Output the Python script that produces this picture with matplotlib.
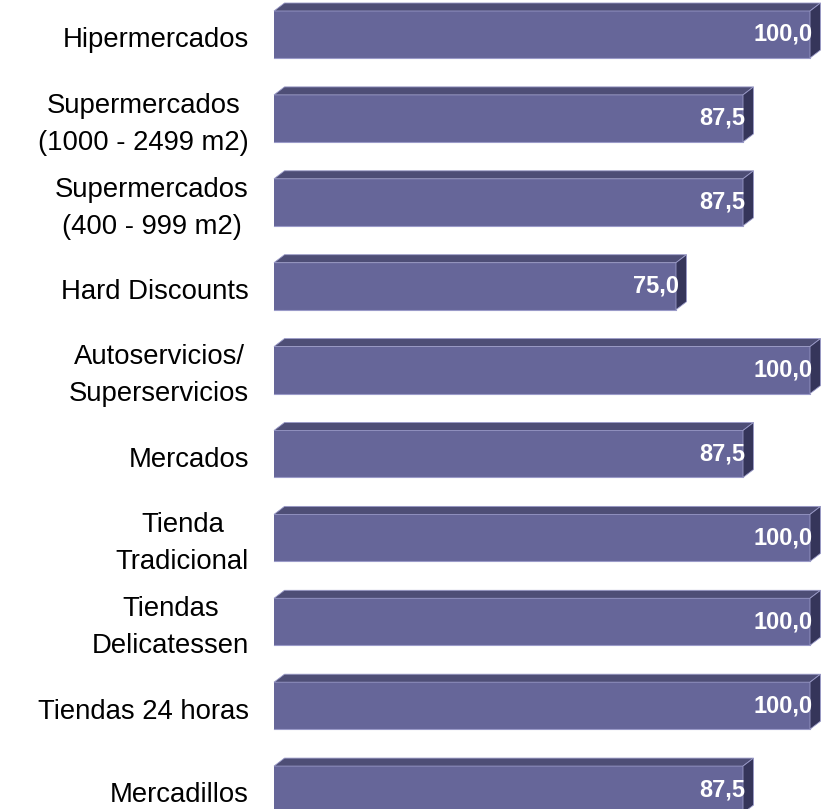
import matplotlib
matplotlib.use("Agg")
import matplotlib.pyplot as plt
from matplotlib.patches import Polygon, Rectangle

categories = [
    "Hipermercados",
    "Supermercados\n(1000 - 2499 m2)",
    "Supermercados\n(400 - 999 m2)",
    "Hard Discounts",
    "Autoservicios/\nSuperservicios",
    "Mercados",
    "Tienda\nTradicional",
    "Tiendas\nDelicatessen",
    "Tiendas 24 horas",
    "Mercadillos",
]
values = [100.0, 87.5, 87.5, 75.0, 100.0, 87.5, 100.0, 100.0, 100.0, 87.5]
value_labels = ["100,0", "87,5", "87,5", "75,0", "100,0", "87,5", "100,0", "100,0", "100,0", "87,5"]

W, H = 834, 809
fig = plt.figure(figsize=(W / 100, H / 100), dpi=100)

left_px, right_px = 274, 810
ax = fig.add_axes([left_px / W, 0, (right_px - left_px) / W, 1])
pitch = 83.9
c0 = 34.5
ax.set_xlim(0, 100)
ax.set_ylim((H - c0) / pitch, -c0 / pitch)
ax.axis("off")

xs = 100 / (right_px - left_px)  # data per px
dx = 10.5 * xs
dy = 8.0 / pitch
h = 47.0 / pitch

front = "#666699"
topc = "#4E4E76"
sidec = "#35355A"
edge = "#9A9AC8"

for i, (v, lab, vl) in enumerate(zip(values, categories, value_labels)):
    top = i - h / 2
    bot = i + h / 2
    ax.add_patch(Rectangle((0, top), v, h, facecolor=front, edgecolor="none", clip_on=False, zorder=2))
    ax.add_patch(Polygon([(0, top), (dx, top - dy), (v + dx, top - dy), (v, top)],
                         closed=True, facecolor=topc, edgecolor=edge, linewidth=0.6, clip_on=False, zorder=3))
    ax.add_patch(Polygon([(v, top), (v + dx, top - dy), (v + dx, bot - dy), (v, bot)],
                         closed=True, facecolor=sidec, edgecolor=edge, linewidth=0.6, clip_on=False, zorder=3))
    ax.plot([0, v], [bot, bot], color=edge, linewidth=0.8, clip_on=False, zorder=3)
    ax.text(v + 0.5, i, vl, ha="right", va="center", color="white", fontsize=17,
            fontweight="bold", family="Liberation Sans", clip_on=False, zorder=4)
    ax.text(-25 * xs, i + 0.07, lab, ha="right", va="center", multialignment="center",
            fontsize=19.8, family="Liberation Sans", color="black", linespacing=1.55,
            clip_on=False)

fig.savefig("out.png", dpi=100)
